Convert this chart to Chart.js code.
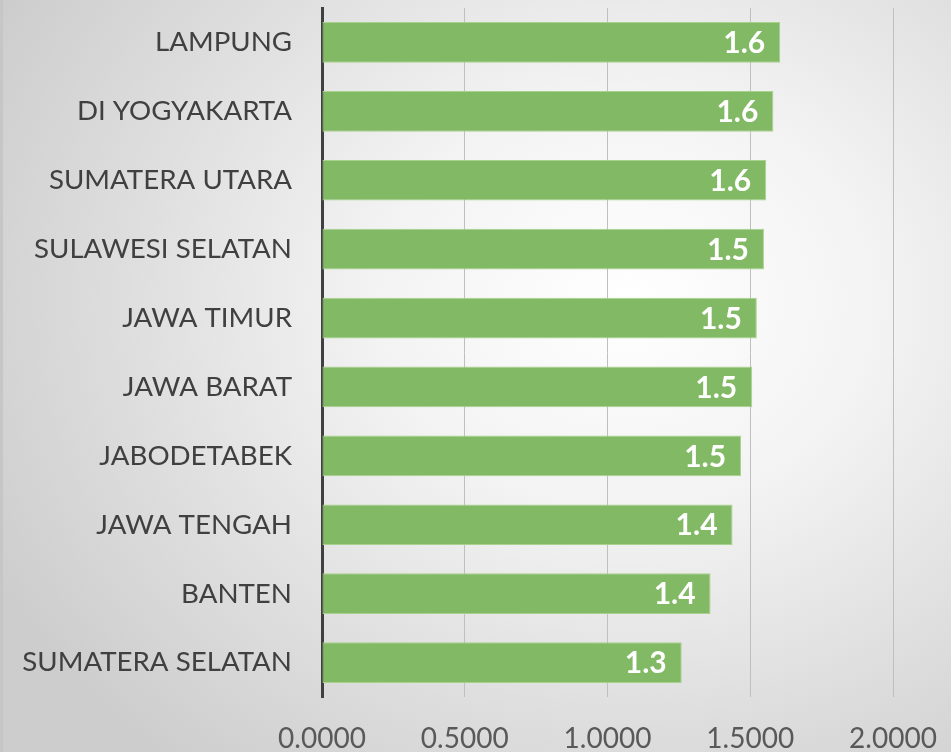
<!DOCTYPE html>
<html>
<head>
<meta charset="utf-8">
<script src="https://cdn.jsdelivr.net/npm/chart.js@4"></script>
<style>
  html, body { margin: 0; padding: 0; }
  #wrap {
    position: relative; width: 951px; height: 752px;
    box-shadow: inset 3px 0 0 #c6c6c6;
    background: radial-gradient(ellipse 75% 80% at 66% 40%, #ffffff 0%, #f3f3f3 35%, #dedede 70%, #cdcdcd 100%);
  }
  canvas { position: absolute; left: 0; top: 0; }
</style>
</head>
<body>
<div id="wrap"><canvas id="c" width="951" height="752"></canvas></div>
<script>
const categories = ["LAMPUNG", "DI YOGYAKARTA", "SUMATERA UTARA", "SULAWESI SELATAN", "JAWA TIMUR", "JAWA BARAT", "JABODETABEK", "JAWA TENGAH", "BANTEN", "SUMATERA SELATAN"];
const values = [1.605, 1.581, 1.556, 1.548, 1.523, 1.507, 1.468, 1.438, 1.361, 1.260];
const tickValues = [0, 0.5, 1.0, 1.5, 2.0];

const FONT = "Lato, 'Open Sans', sans-serif";

const valueLabels = {
  id: 'valueLabels',
  afterDatasetsDraw(chart) {
    const ctx = chart.ctx;
    const meta = chart.getDatasetMeta(0);
    ctx.save();
    ctx.font = "bold 30px " + FONT;
    ctx.fillStyle = "#ffffff";
    ctx.textAlign = "right";
    ctx.textBaseline = "middle";
    meta.data.forEach((bar, i) => {
      ctx.fillText(values[i].toFixed(1), bar.x - 15, bar.y + 1);
    });
    ctx.restore();
  }
};

new Chart(document.getElementById('c'), {
  type: 'bar',
  data: {
    labels: categories,
    datasets: [{
      data: values,
      backgroundColor: '#82b964',
      borderColor: '#a8d28c',
      borderWidth: 1,
      borderSkipped: false,
      categoryPercentage: 1.0,
      barPercentage: 0.59
    }]
  },
  options: {
    responsive: false,
    animation: false,
    indexAxis: 'y',
    layout: { padding: { top: 8, right: 58, left: 0, bottom: 0 } },
    plugins: { legend: { display: false }, tooltip: { enabled: false } },
    scales: {
      x: {
        min: 0, max: 2,
        afterBuildTicks(scale) { scale.ticks = tickValues.map(v => ({ value: v })); },
        afterFit(scale) { scale.height = 55; scale.paddingLeft = 0; scale.paddingRight = 0; },
        grid: { color: '#bfbfbf', lineWidth: 1, drawTicks: false },
        border: { display: false },
        ticks: {
          padding: 25,
          color: '#595959',
          font: { family: FONT, size: 28 },
          callback: (v) => Number(v).toFixed(4)
        }
      },
      y: {
        afterFit(scale) { scale.width = 322; scale.paddingTop = 0; scale.paddingBottom = 0; },
        grid: { display: false, drawTicks: false },
        border: { display: true, color: '#404040', width: 3 },
        ticks: {
          padding: 30,
          color: '#404040',
          font: { family: FONT, size: 27.7 }
        }
      }
    }
  },
  plugins: [valueLabels]
});
</script>
</body>
</html>
